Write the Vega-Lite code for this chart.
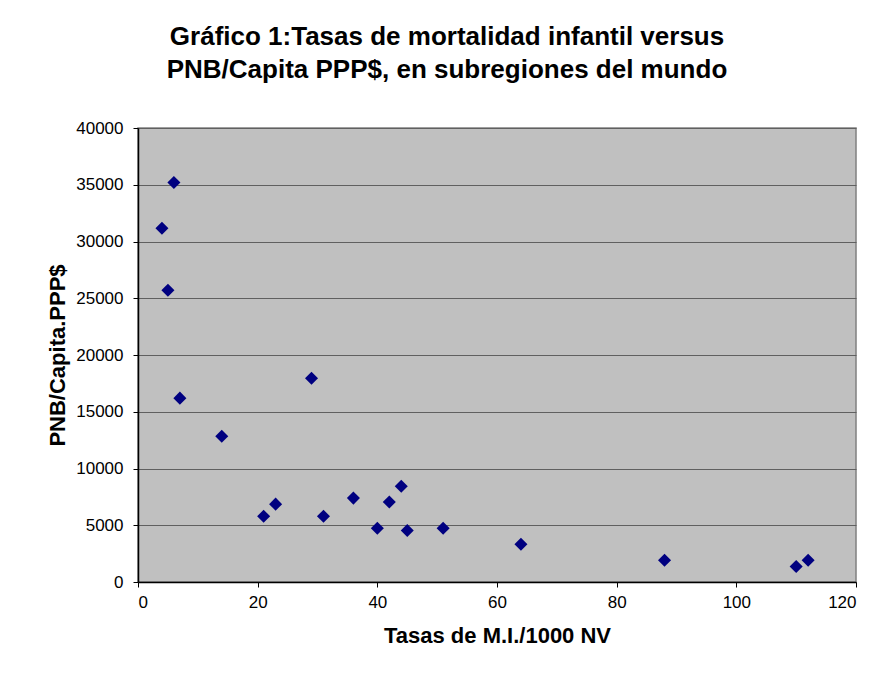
{
  "$schema": "https://vega.github.io/schema/vega-lite/v6.json",
  "width": 718,
  "height": 454,
  "autosize": "none",
  "padding": {"left": 138, "top": 128, "right": 26, "bottom": 104},
  "background": "white",
  "title": {
    "text": ["Gráfico 1:Tasas de mortalidad infantil versus", "PNB/Capita PPP$, en subregiones del mundo"],
    "font": "Liberation Sans",
    "fontSize": 26,
    "fontWeight": "bold",
    "color": "#000000",
    "anchor": "middle",
    "dx": -50,
    "offset": 36,
    "lineHeight": 33
  },
  "data": {
    "values": [
      {"tmi": 4, "pnb": 31170},
      {"tmi": 6, "pnb": 35200},
      {"tmi": 5, "pnb": 25700},
      {"tmi": 7, "pnb": 16200},
      {"tmi": 14, "pnb": 12850},
      {"tmi": 29, "pnb": 17960},
      {"tmi": 21, "pnb": 5800},
      {"tmi": 23, "pnb": 6860},
      {"tmi": 31, "pnb": 5800},
      {"tmi": 36, "pnb": 7390},
      {"tmi": 40, "pnb": 4740},
      {"tmi": 42, "pnb": 7040},
      {"tmi": 44, "pnb": 8440},
      {"tmi": 45, "pnb": 4540},
      {"tmi": 51, "pnb": 4740},
      {"tmi": 64, "pnb": 3330},
      {"tmi": 88, "pnb": 1920},
      {"tmi": 110, "pnb": 1370},
      {"tmi": 112, "pnb": 1920}
    ]
  },
  "mark": {"type": "point", "shape": "diamond", "filled": true, "color": "#000080", "opacity": 1, "size": 170},
  "encoding": {
    "x": {
      "field": "tmi",
      "type": "quantitative",
      "scale": {"domain": [0, 120], "nice": false, "zero": true},
      "axis": {
        "title": "Tasas de M.I./1000 NV",
        "values": [0, 20, 40, 60, 80, 100, 120],
        "grid": false,
        "domainColor": "#000000",
        "domainWidth": 1.5,
        "tickColor": "#000000",
        "tickSize": 5,
        "labelPadding": 7,
        "labelFont": "Liberation Sans",
        "labelFontSize": 17,
        "labelColor": "#000000",
        "titleFont": "Liberation Sans",
        "titleFontSize": 22,
        "titleFontWeight": "bold",
        "titleColor": "#000000",
        "titlePadding": 15
      }
    },
    "y": {
      "field": "pnb",
      "type": "quantitative",
      "scale": {"domain": [0, 40000], "nice": false},
      "axis": {
        "title": "PNB/Capita.PPP$",
        "values": [0, 5000, 10000, 15000, 20000, 25000, 30000, 35000, 40000],
        "format": "d",
        "grid": true,
        "gridColor": "#606060",
        "gridWidth": 1.2,
        "domainColor": "#000000",
        "domainWidth": 1.5,
        "tickColor": "#000000",
        "tickSize": 5,
        "labelPadding": 10,
        "labelFont": "Liberation Sans",
        "labelFontSize": 17,
        "labelColor": "#000000",
        "titleFont": "Liberation Sans",
        "titleFontSize": 22,
        "titleFontWeight": "bold",
        "titleColor": "#000000",
        "titlePadding": 6
      }
    }
  },
  "config": {
    "view": {"fill": "#C0C0C0", "stroke": "#808080", "strokeWidth": 1.5}
  }
}
